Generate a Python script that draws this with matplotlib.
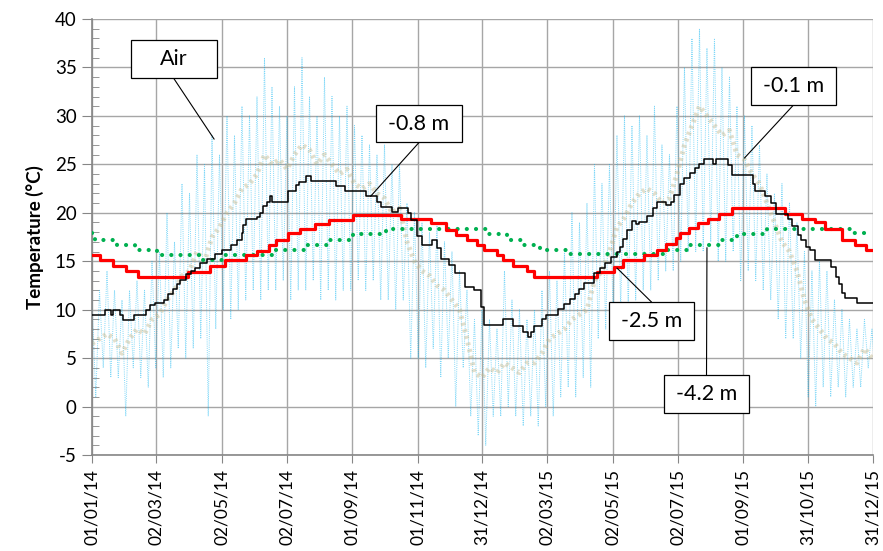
import numpy as np
import matplotlib
matplotlib.use("Agg")
import matplotlib.pyplot as plt
import matplotlib.dates as mdates
from matplotlib.patches import Rectangle
from matplotlib.ticker import MultipleLocator

plt.rcParams['font.family'] = ['Lato', 'DejaVu Sans']
plt.rcParams['axes.unicode_minus'] = False

start = np.datetime64('2014-01-01')

# air temperature, weekly envelope (max / min) and mean
air_day = list(range(0, 729, 7))
air_hi = [11, 12, 14, 12, 11, 12, 13, 12, 15, 16, 20, 17, 23, 22, 26, 25, 28, 26, 30, 28,
          31, 30, 32, 36, 33, 31, 30, 33, 36, 32, 30, 34, 32, 30, 31, 29, 28, 27, 26, 27,
          25, 25, 21, 20, 19, 18, 19, 17, 16, 14, 12, 9, 10,
          9, 8, 14, 11, 10, 9, 10, 12, 14, 13, 16, 20, 19, 21, 25, 23, 25, 28, 30, 29,
          30, 28, 31, 27, 26, 31, 35, 38, 39, 37, 38, 35, 34, 31, 30, 29, 27, 24, 22, 23,
          21, 19, 16, 14, 15, 14, 11, 10, 9, 8, 9, 8]
air_lo = [1, 4, 3, 3, -1, 4, 3, 2, 4, 3, 4, 6, 5, 6, 7, -1, 8, 10, 9, 10,
          11, 12, 11, 12, 12, 13, 11, 12, 12, 13, 11, 12, 11, 12, 12, 13, 12, 13, 11, 11,
          10, 11, 5, 5, 4, 6, 3, 5, 0, 4, -1, -3, -4,
          -1, -1, 0, -1, -2, -1, -2, 0, -1, 1, 2, 1, 3, 2, 7, 8, 9, 10, 10, 11,
          12, 12, 13, 14, 14, 15, 16, 16, 16, 17, 15, 15, 16, 13, 14, 13, 12, 11, 9, 7,
          7, 5, 1, 0, 2, 1, 2, 1, 2, 2, 4, 2]
air_mean = [6.5, 7, 7.5, 7, 5.5, 7, 8, 7.5, 9, 9.5, 11, 12, 13.5, 14, 16, 15, 17.5, 18.5, 20, 21,
            22.5, 23, 24, 26, 25, 25.5, 24.5, 26, 27, 26.5, 25, 26, 25, 24, 24.5, 23, 22.5, 23, 22, 21.5,
            20, 20.5, 17, 15, 14, 13.5, 12.5, 12, 11, 10, 7, 3.5, 3,
            4, 3.5, 4.5, 4, 3.5, 4.5, 4.5, 5.5, 7, 7.5, 8, 9, 9.5, 10, 13, 14, 16, 18.5, 19.5,
            21, 22, 22.5, 22, 21, 21.5, 24, 27, 29, 31, 30, 29, 28, 28.5, 26, 25.5, 24, 23, 21,
            19, 17, 16, 14, 11, 9, 8, 7, 6.5, 5.5, 5, 4.5, 6, 5]

# soil temperatures (step series: day of change, new value)
black_day = [0, 12, 18, 20, 26, 29, 39, 50, 54, 59, 67, 71, 76, 79, 82, 88, 92, 96, 101, 107,
             115, 121, 130, 135, 140, 141, 144, 154, 157, 160, 163, 166, 168, 183, 190, 193, 200,
             204, 228, 236, 256, 266, 270, 280, 286, 295, 298, 303, 308, 317, 322, 326, 333, 339,
             348, 357, 363, 366, 384, 393, 402, 407, 410, 413, 420, 424, 435, 441, 446, 451, 455,
             459, 469, 474, 479, 484, 490, 493, 496, 499, 504, 508, 511, 518, 524, 527, 536, 540,
             543, 549, 553, 558, 563, 567, 571, 580, 582, 594, 597, 617, 619, 628, 634, 638, 650,
             653, 659, 662, 666, 670, 675, 690, 694, 697, 700, 703, 714, 729]
black_temp = [9.45, 10.0, 9.45, 10.0, 9.45, 8.9, 9.45, 10.0, 10.5, 10.7, 11.0, 11.6, 12.1, 12.6,
              13.1, 13.7, 14.0, 14.3, 14.8, 15.2, 15.7, 16.2, 16.7, 17.2, 17.9, 18.7, 19.4, 19.6,
              20.0, 20.7, 21.1, 21.7, 21.1, 22.2, 22.9, 23.2, 23.8, 23.3, 22.8, 22.2, 21.7, 21.1,
              20.6, 20.1, 20.5, 20.0, 19.3, 17.6, 16.7, 17.2, 16.4, 15.2, 14.6, 13.8, 12.3, 12.0,
              10.3, 8.4, 9.0, 8.3, 7.7, 7.2, 7.7, 8.3, 9.0, 9.5, 10.1, 10.6, 11.1, 11.6, 12.1,
              12.8, 13.8, 14.3, 14.8, 15.4, 16.0, 16.5, 17.3, 18.2, 19.2, 18.8, 19.0, 19.7, 20.5,
              21.1, 20.8, 21.1, 21.8, 23.0, 23.6, 24.1, 24.6, 25.0, 25.6, 25.0, 25.6, 24.9, 23.9,
              23.0, 22.2, 21.7, 21.0, 19.9, 19.4, 18.6, 17.7, 17.2, 16.5, 16.2, 15.1, 14.4, 13.4,
              12.7, 11.7, 11.2, 10.65, 10.65]

red_day = [0, 7, 20, 32, 43, 90, 110, 124, 144, 154, 165, 172, 183, 194, 208, 221, 244, 288,
           316, 330, 340, 350, 359, 366, 378, 384, 393, 406, 413, 471, 487, 496, 515, 527, 536,
           545, 549, 557, 566, 575, 585, 597, 647, 663, 675, 684, 700, 712, 722, 729]
red_temp = [15.6, 15.1, 14.5, 14.0, 13.4, 13.9, 14.5, 15.1, 15.6, 16.1, 16.7, 17.2, 17.9, 18.3,
            18.8, 19.3, 19.8, 19.4, 18.9, 18.2, 17.7, 17.2, 16.7, 16.2, 15.6, 15.1, 14.5, 14.0,
            13.4, 13.9, 14.4, 15.1, 15.6, 16.2, 16.8, 17.4, 17.9, 18.4, 18.9, 19.4, 19.9, 20.5,
            19.9, 19.4, 19.0, 18.3, 17.2, 16.7, 16.2, 16.2]

green_day = [0, 3, 23, 40, 61, 100, 124, 171, 199, 221, 244, 274, 368, 387, 403, 418, 443, 536,
             558, 585, 602, 630, 709, 729]
green_temp = [17.9, 17.2, 16.7, 16.2, 15.6, 15.1, 15.6, 16.2, 16.7, 17.2, 17.8, 18.3, 17.8, 17.2,
              16.7, 16.2, 15.7, 16.2, 16.7, 17.2, 17.8, 18.3, 17.9, 17.9]

tick_dates = ['2014-01-01', '2014-03-02', '2014-05-02', '2014-07-02', '2014-09-01', '2014-11-01',
              '2014-12-31', '2015-03-02', '2015-05-02', '2015-07-02', '2015-09-01', '2015-10-31',
              '2015-12-31']

# label text, box centre (axes fraction), leader tip (day, temp)
labels = [("Air", 0.1044, 0.908, 114, 27.6, 'down'),
          ("-0.8 m", 0.4187, 0.7603, 260, 21.7, 'down'),
          ("-0.1 m", 0.8982, 0.8463, 609, 25.65, 'down'),
          ("-2.5 m", 0.7164, 0.3073, 490, 14.3, 'up'),
          ("-4.2 m", 0.7868, 0.1399, 574, 16.4, 'up')]


def dates(days):
    return start + (np.array(days) * 24).astype('timedelta64[h]')


fig = plt.figure(figsize=(8.83, 5.51), dpi=100)
ax = fig.add_axes([0.1042, 0.1742, 0.8845, 0.7913])

# air: zig-zag between weekly max and min
zz_day, zz_t = [], []
for d, h, l in zip(air_day, air_hi, air_lo):
    zz_day += [d, d + 3.5]
    zz_t += [h, l]
ax.plot(dates(zz_day), zz_t, color='#00b0f0', lw=0.7, ls=(0, (1, 1.2)), alpha=0.5, zorder=2)
ax.plot(dates(air_day), air_mean, color='#c2b88f', lw=3.5, ls=(0, (0.6, 0.8)), alpha=0.45, zorder=2)

ax.plot(dates(green_day), green_temp, drawstyle='steps-post', color='#00b050', lw=3,
        ls=(0, (0.01, 2.2)), dash_capstyle='round', zorder=3)
ax.plot(dates(red_day), red_temp, drawstyle='steps-post', color='#ff0000', lw=2.3, zorder=4)
ax.plot(dates(black_day), black_temp, drawstyle='steps-post', color='black', lw=1.1, zorder=5)

ax.set_xlim(np.datetime64('2014-01-01'), np.datetime64('2015-12-31'))
ax.set_ylim(-5, 40)
ax.set_xticks([np.datetime64(t) for t in tick_dates])
ax.xaxis.set_major_formatter(mdates.DateFormatter('%d/%m/%y'))
ax.yaxis.set_major_locator(MultipleLocator(5))
ax.yaxis.set_minor_locator(MultipleLocator(1))
ax.tick_params(axis='x', labelrotation=90, labelsize=12.5, length=6, color='#868686', pad=4)
ax.tick_params(axis='y', which='major', labelsize=13.5, length=7, color='#868686', pad=4)
ax.tick_params(axis='y', which='minor', direction='in', length=5, color='#868686')
ax.grid(True, which='major', color='#a6a6a6', lw=1)
ax.set_axisbelow(True)
for s in ['top', 'right']:
    ax.spines[s].set_visible(False)
for s in ['left', 'bottom']:
    ax.spines[s].set_color('#868686')
    ax.spines[s].set_linewidth(1.2)
ax.set_ylabel('Temperature (°C)', fontsize=13.5, fontweight='bold', labelpad=8)

bw, bh = 0.110, 0.087
for txt, cx, cy, d, t, side in labels:
    ax.add_patch(Rectangle((cx - bw / 2, cy - bh / 2), bw, bh, transform=ax.transAxes,
                           fc='white', ec='black', lw=0.9, zorder=8))
    ax.text(cx, cy, txt, transform=ax.transAxes, ha='center', va='center', fontsize=15.5, zorder=9)
    y0 = cy - bh / 2 if side == 'down' else cy + bh / 2
    ax.annotate('', xy=(dates([d])[0], t), xycoords='data', xytext=(cx, y0),
                textcoords='axes fraction',
                arrowprops=dict(arrowstyle='-', color='black', lw=0.8, shrinkA=0, shrinkB=0),
                zorder=7)

fig.savefig('out.png', dpi=100)
